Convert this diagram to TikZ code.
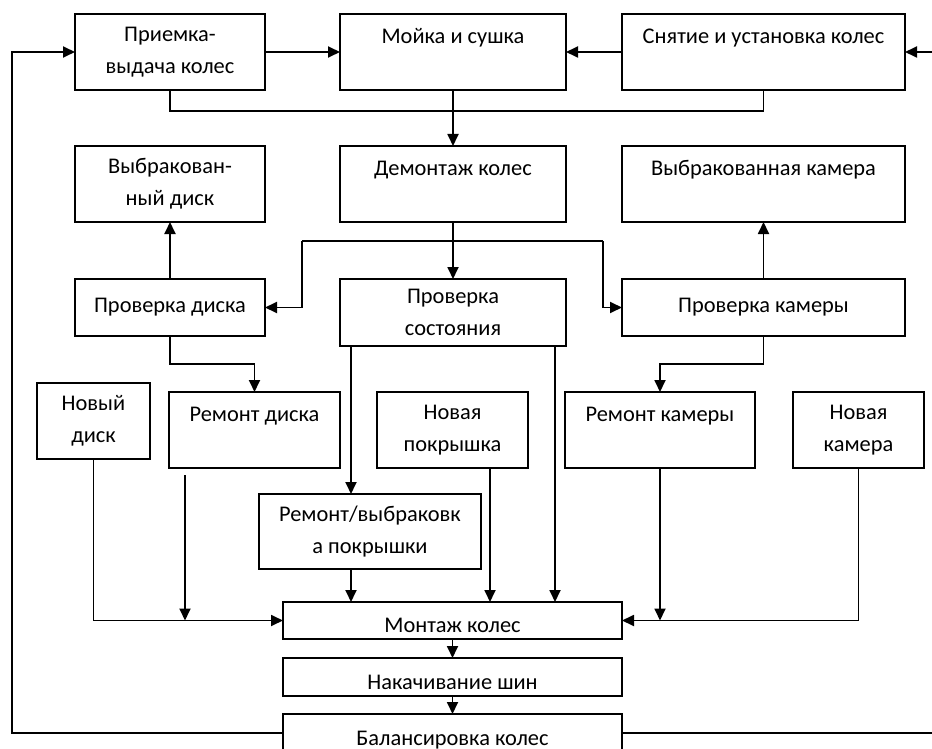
\documentclass[tikz,border=0pt]{standalone}
\usepackage{fontspec}
\setmainfont{Carlito}
\usetikzlibrary{positioning,arrows.meta}

\begin{document}
\begin{tikzpicture}[
    x=1pt,y=-1pt,
    every node/.style={font=\fontsize{22.4}{32}\selectfont},
    box/.style={rectangle,draw,line width=1.2pt,inner sep=0pt,outer sep=0pt,
                minimum height=76pt,align=center},
    flat/.style={box,minimum height=37pt,minimum width=339pt,
                 text height=24pt,text depth=0pt},
    arrow/.style={-{Triangle[length=12pt,width=11pt]},line width=1.8pt},
    link/.style={line width=1.8pt}
]
\useasboundingbox (0,0) rectangle (932,749);
\node[box,minimum width=190pt] (priem) at (170,52) {Приемка-\\выдача колес};
\node[box,minimum width=226pt,right=75pt of priem] (moika) {Мойка и сушка\\\mbox{}};
\node[box,minimum width=283pt,right=56pt of moika] (snyatie) {Снятие и установка колес\\\mbox{}};
\node[box,minimum width=190pt,below=56pt of priem] (brakdisk) {Выбракован-\\ный диск};
\node[box,minimum width=226pt,below=56pt of moika] (demontazh) {Демонтаж колес\\\mbox{}};
\node[box,minimum width=283pt,below=56pt of snyatie] (brakkam) {Выбракованная камера\\\mbox{}};
\node[box,minimum width=190pt,minimum height=57pt,below=57pt of brakdisk] (provdisk) {Проверка диска};
\node[box,minimum width=226pt,minimum height=67pt,below=57pt of demontazh] (provsost) {Проверка\\состояния};
\node[box,minimum width=283pt,minimum height=57pt,below=57pt of brakkam] (provkam) {Проверка камеры};
\node[box,minimum width=171pt,below=56pt of provdisk,xshift=84.5pt] (remdisk) {Ремонт диска\\\mbox{}};
\node[box,minimum width=113pt,left=19pt of remdisk,yshift=9pt] (novdisk) {Новый\\диск};
\node[box,minimum width=151pt,right=37pt of remdisk] (novpokr) {Новая\\покрышка};
\node[box,minimum width=190pt,right=37pt of novpokr] (remkam) {Ремонт камеры\\\mbox{}};
\node[box,minimum width=131pt,right=38pt of remkam] (novkam) {Новая\\камера};
\node[box,minimum width=222pt,minimum height=75pt,below=26pt of remdisk,xshift=115.5pt] (rempokr) {Ремонт/выбраковк\\а покрышки};
\node[flat,below=33pt of rempokr,xshift=82.5pt] (montazh) {Монтаж колес};
\node[flat,minimum height=38pt,below=19pt of montazh] (nakach) {Накачивание шин};
\node[flat,minimum height=38pt,below=18pt of nakach] (balans) {Балансировка колес};

\coordinate (lloop) at (12,52);
\coordinate (rloop) at (945,52);
\coordinate (splitl) at (302,241);
\coordinate (splitr) at (603,241);
\coordinate (sl) at ([xshift=11pt]provsost.south west);
\coordinate (sr) at ([xshift=-11pt]provsost.south east);
\coordinate (np) at ([xshift=-38pt]novpokr.south east);
\coordinate (rd) at ([xshift=16pt,yshift=-7pt]remdisk.south west);

\draw[arrow] (priem) -- (moika);
\draw[arrow] (snyatie) -- (moika);
\draw[link] (priem.south) -- ++(0,21) -| (snyatie.south);
\draw[arrow] (moika) -- (demontazh);
\draw[arrow] (demontazh) -- (provsost);
\draw[link] (splitl) -- (splitr);
\draw[arrow] (splitl) |- (provdisk);
\draw[arrow] (splitr) |- (provkam);
\draw[arrow] (provdisk) -- (brakdisk);
\draw[arrow] (provkam) -- (brakkam);
\draw[arrow] (provdisk.south) -- ++(0,28) -| (remdisk.north);
\draw[arrow] (provkam.south) -- ++(0,28) -| (remkam.north);
\draw[arrow] (sl) -- (sl |- rempokr.north);
\draw[arrow] (rempokr.south -| sl) -- (sl |- montazh.north);
\draw[arrow] (np) -- (np |- montazh.north);
\draw[arrow] (sr) -- (sr |- montazh.north);
\draw[arrow] (novdisk) |- (montazh);
\draw[arrow] (rd) -- (rd |- montazh.west);
\draw[arrow] (remkam) -- (remkam |- montazh);
\draw[arrow] (novkam) |- (montazh);
\draw[arrow] (montazh) -- (nakach);
\draw[arrow] (nakach) -- (balans);
\draw[arrow] (balans.west) -| (lloop) -- (priem);
\draw[arrow] (balans.east) -| (rloop) -- (snyatie);
\end{tikzpicture}
\end{document}
